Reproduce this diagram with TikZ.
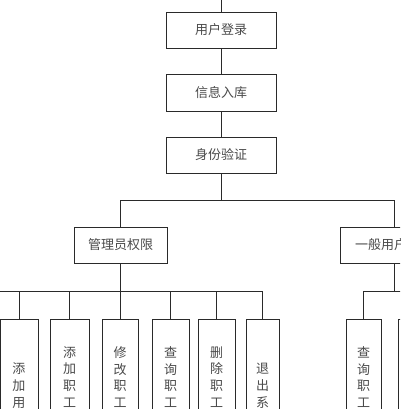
\documentclass[tikz,border=0pt]{standalone}
\usepackage{fontspec}
\newfontfamily\cjk{Noto Sans CJK SC}
\definecolor{ln}{HTML}{2A2A2A}
\definecolor{tx}{HTML}{4A4A4A}
\tikzset{
  hbox/.style={draw=ln, line width=0.9pt, minimum width=110pt, minimum height=36pt,
    inner sep=0pt, text=tx, font=\cjk\fontsize{13}{15}\selectfont},
  vbox/.style={draw=ln, line width=0.9pt, minimum height=150pt, inner sep=0pt,
    align=center, text=tx, font=\cjk\fontsize{13}{16.7}\selectfont},
  conn/.style={draw=ln, line width=0.8pt}
}
\begin{document}
\begin{tikzpicture}[x=1pt,y=-1pt]
\useasboundingbox (0,0) rectangle (400,409);
\clip (0,0) rectangle (400,409);
\fill[white] (0,0) rectangle (400,409);
\coordinate (top) at (221,0);
\node[hbox] (login) at (221,30) {用户登录};
\node[hbox, minimum height=37pt] (info) at (221,92.5) {信息入库};
\node[hbox] (verify) at (221,155) {身份验证};
\node[hbox, minimum width=93pt] (admin) at (120.5,245) {管理员权限};
\node[hbox, minimum width=108pt] (user) at (394,245) {一般用户权限};
% admin children
\node[vbox, minimum width=38pt] (c1) at (19,394) {添\\加\\用\\户};
\node[vbox, minimum width=39pt] (c2) at (69.5,394) {添\\加\\职\\工\\信\\息};
\node[vbox, minimum width=36pt] (c3) at (120,394) {修\\改\\职\\工\\信\\息};
\node[vbox, minimum width=37pt] (c4) at (170.5,394) {查\\询\\职\\工\\信\\息};
\node[vbox, minimum width=37pt] (c5) at (216.5,394) {删\\除\\职\\工\\信\\息};
\node[vbox, minimum width=33pt] (c6) at (262.5,394) {退\\出\\系\\统};
% user children
\node[vbox, minimum width=35pt] (u1) at (363.5,394) {查\\询\\职\\工\\信\\息};
\node[vbox, minimum width=36pt] (u2) at (416,394) {};
% connectors
\draw[conn] (top) -- (login);
\draw[conn] (login) -- (info);
\draw[conn] (info) -- (verify);
\draw[conn] (admin.north) |- (verify.south |- 0,200) -- (verify.south);
\draw[conn] (verify.south |- 0,200) -| (user.north);
\coordinate (ab) at (0,291);
\draw[conn] (admin.south) -- (admin.south |- ab);
\draw[conn] (ab) -| (c6.north);
\foreach \c in {c1,c2,c3,c4,c5}{
  \draw[conn] (\c.north) -- (\c.north |- ab);
}
\draw[conn] (user.south) -- (user.south |- ab);
\draw[conn] (u1.north) |- (u2.north |- ab) -- (u2.north);
\end{tikzpicture}
\end{document}
